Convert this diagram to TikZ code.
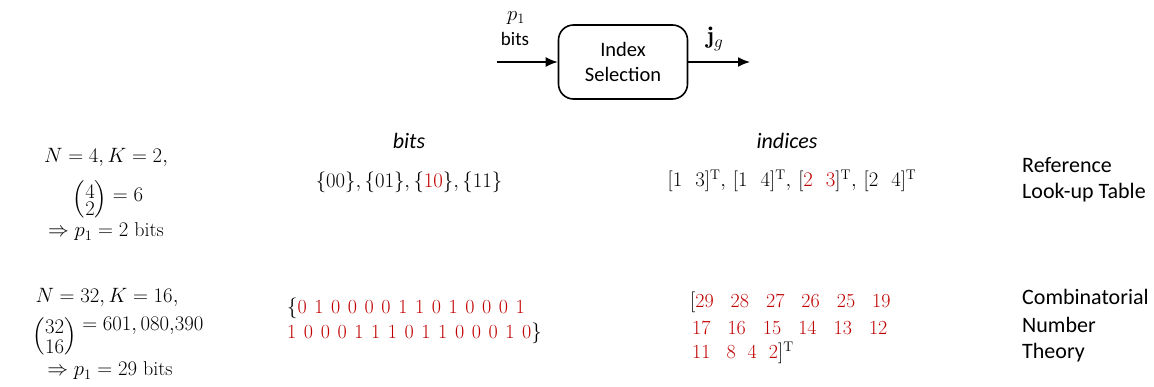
\documentclass[tikz,border=0pt]{standalone}
\usepackage{amsmath}
\usepackage{fontspec}
\setsansfont{Carlito}
\usetikzlibrary{arrows.meta}
\definecolor{myred}{RGB}{192,0,0}
\newcommand{\mybinom}[3]{\left(\vcenter{\baselineskip=#3\halign{\hfil$##$\hfil\cr #1\cr #2\cr}}\right)}
\newcommand{\gp}{\hspace{13pt}}
\tikzset{
  sf/.style={font=\fontsize{22}{28}\selectfont\sffamily, inner sep=0pt},
  mth/.style={font=\fontsize{20}{25}\selectfont, inner sep=0pt},
  conn/.style={line width=1.6pt, -{Latex[length=12pt,width=10pt]}},
  blk/.style={draw, line width=1.6pt, rounded corners=15pt, minimum width=129pt, minimum height=74pt, align=center, font=\fontsize{20.5}{25}\selectfont\sffamily}
}
\begin{document}
\begin{tikzpicture}[x=1pt,y=-1pt]
\useasboundingbox (0,0) rectangle (1154,386);
% block diagram
\node[blk] (box) at (623,62) {Index\\Selection};
\coordinate (in) at (497,62);
\coordinate (out) at (750,62);
\draw[conn] (in) -- (box.west);
\draw[conn] (box.east) -- (out);
\node[mth] (p1) at (516,18) {$p_1$};
\node[sf, font=\fontsize{19}{25}\selectfont\sffamily] (bitslbl) at (515,39) {bits};
\node[mth, font=\fontsize{24}{25}\selectfont] (jg) at (715,39) {$\mathbf{j}_g$};
% headers
\node[sf, font=\fontsize{22}{25}\selectfont\sffamily\itshape] (hbits) at (409,141) {bits};
\node[sf, font=\fontsize{22}{25}\selectfont\sffamily\itshape] (hind) at (787,141) {indices};
% row 1
\node[mth] (r1a) at (106,157) {$N=4, K=2,$};
\node[mth, anchor=base] (r1b) at (108,201) {$\raisebox{-4pt}{$\mybinom{4}{2}{17pt}$}=6$};
\node[mth] (r1c) at (106,232) {$\Rightarrow p_1=2\ \mathrm{bits}$};
\node[mth] (r1bits) at (409,182) {$\{00\},\{01\},\{\textcolor{myred}{10}\},\{11\}$};
\node[mth] (r1ind) at (792,181) {$[1\gp 3]^{\mathrm{T}},\,[1\gp 4]^{\mathrm{T}},\,[\textcolor{myred}{2\gp 3}]^{\mathrm{T}},\,[2\gp 4]^{\mathrm{T}}$};
\node[sf, anchor=west] (ref1) at (1022,165) {Reference};
\node[sf, anchor=west] (ref2) at (1022,193) {Look-up Table};
% row 2
\node[mth] (r2a) at (107,297) {$N=32, K=16,$};
\node[mth, anchor=base] (r2b) at (118,330) {$\raisebox{-12pt}{$\mybinom{32}{16}{20pt}$}=601,080{,}390$};
\node[mth] (r2c) at (110,371) {$\Rightarrow p_1=29\ \mathrm{bits}$};
\node[mth, anchor=west] (r2bits1) at (287,308) {\spaceskip=7.6pt$\{$\textcolor{myred}{0 1 0 0 0 0 1 1 0 1 0 0 0 1}};
\node[mth, anchor=west] (r2bits2) at (287,333) {\spaceskip=7.6pt\textcolor{myred}{1 0 0 0 1 1 1 0 1 1 0 0 0 1 0}$\}$};
\node[mth, anchor=west] (r2ind1) at (690,302) {$[$\textcolor{myred}{29\hspace{17pt}28\hspace{17pt}27\hspace{17pt}26\hspace{17pt}25\hspace{17pt}19}};
\node[mth, anchor=west] (r2ind2) at (692,328) {\textcolor{myred}{17\hspace{17pt}16\hspace{17pt}15\hspace{17pt}14\hspace{17pt}13\hspace{17pt}12}};
\node[mth, anchor=west] (r2ind3) at (692,353) {\textcolor{myred}{11\hspace{16pt}8\hspace{12pt}4\hspace{12pt}2}$]^{\mathrm{T}}$};
\node[sf, anchor=west] (cn1) at (1022,297) {Combinatorial};
\node[sf, anchor=west] (cn2) at (1022,325) {Number};
\node[sf, anchor=west] (cn3) at (1022,353) {Theory};
\end{tikzpicture}
\end{document}
